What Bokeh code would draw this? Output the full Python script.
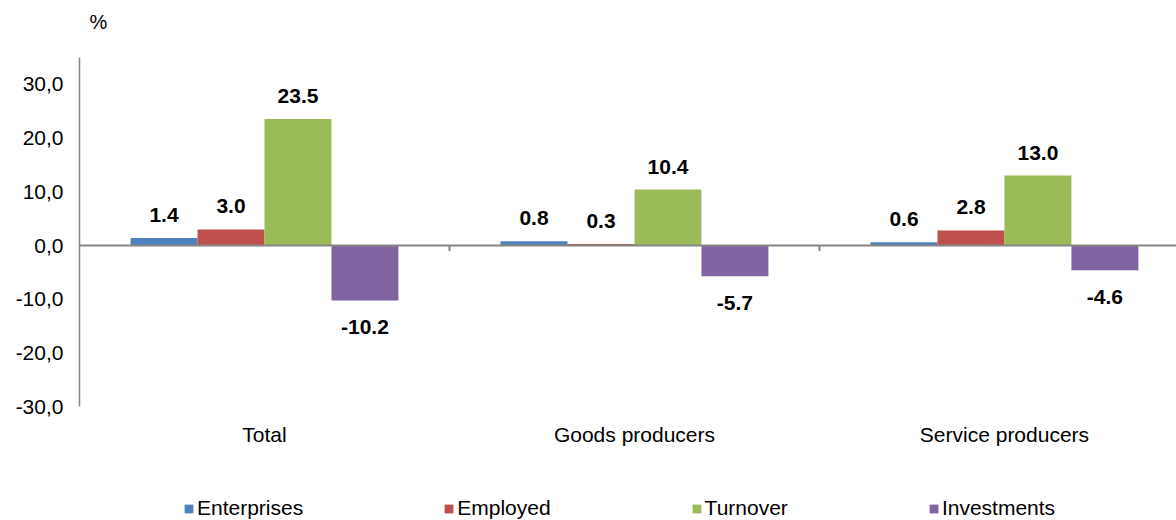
from bokeh.plotting import figure
from bokeh.models import Range1d, FixedTicker, Legend, LegendItem, Span, Label, ColumnDataSource
from bokeh.core.properties import value
from bokeh.embed import file_html
from bokeh.resources import INLINE

categories = ["Total", "Goods producers", "Service producers"]
series_names = ["Enterprises", "Employed", "Turnover", "Investments"]
enterprises = [1.4, 0.8, 0.6]
employed = [3.0, 0.3, 2.8]
turnover = [23.5, 10.4, 13.0]
investments = [-10.2, -5.7, -4.6]
y_ticks = [-30, -20, -10, 0, 10, 20, 30]
y_tick_labels = ["-30,0", "-20,0", "-10,0", "0,0", "10,0", "20,0", "30,0"]
colors = ["#4F81BD", "#C0504D", "#9BBB59", "#8064A2"]

series = [enterprises, employed, turnover, investments]
FONT = "Liberation Sans"
bw = 0.181
y_min, y_max = -30, 35

p = figure(width=1176, height=520, output_backend="svg", toolbar_location=None,
           x_range=Range1d(0, 2.965), y_range=Range1d(-51.1, 45.54),
           min_border_left=79, min_border_right=0, min_border_top=0, min_border_bottom=0)
p.outline_line_color = None
p.grid.grid_line_color = None
p.background_fill_color = "white"
p.xaxis.visible = False

# y axis
p.yaxis.bounds = (y_min, y_max)
p.yaxis.ticker = FixedTicker(ticks=y_ticks)
p.yaxis.major_label_overrides = {t: l for t, l in zip(y_ticks, y_tick_labels)}
p.yaxis.axis_line_color = "#868686"
p.yaxis.axis_line_width = 1.5
p.yaxis.major_tick_line_color = None
p.yaxis.minor_tick_line_color = None
p.yaxis.major_tick_out = 0
p.yaxis.major_tick_in = 0
p.yaxis.major_label_standoff = 16
p.yaxis.major_label_text_font = FONT
p.yaxis.major_label_text_font_size = "21px"
p.yaxis.major_label_text_color = "black"

# category labels under the plot area
centers = [i + 0.5 for i in range(len(categories))]
p.text(x=centers, y=[y_min] * len(centers), text=categories, y_offset=28,
       text_align="center", text_baseline="middle", text_font=value(FONT),
       text_font_size="21px", text_color="black")

# zero line
p.add_layout(Span(location=0, dimension="width", line_color="#868686", line_width=2))
# category separators
seps = [float(i) for i in range(1, len(categories))]
p.segment(x0=seps, y0=[0] * len(seps), x1=seps, y1=[-1.0] * len(seps), line_color="#868686", line_width=2)

items = []
for k, (name, vals, col) in enumerate(zip(series_names, series, colors)):
    xs = [c + (k - 1.5) * bw for c in centers]
    src = ColumnDataSource(dict(x=xs, top=vals))
    r = p.vbar(x="x", top="top", bottom=0, width=bw, source=src, fill_color=col, line_color=None)
    items.append(LegendItem(label=name, renderers=[r]))
    pos = [(x, v, f"{v:.1f}") for x, v in zip(xs, vals)]
    psrc = ColumnDataSource(dict(x=[a for a, b, c in pos if b >= 0], y=[b for a, b, c in pos if b >= 0], t=[c for a, b, c in pos if b >= 0]))
    nsrc = ColumnDataSource(dict(x=[a for a, b, c in pos if b < 0], y=[b for a, b, c in pos if b < 0], t=[c for a, b, c in pos if b < 0]))
    for s, off in ((psrc, -23), (nsrc, 27)):
        p.text(x="x", y="y", text="t", source=s, y_offset=off, text_align="center", text_baseline="middle",
               text_font=value(FONT), text_font_style="bold", text_font_size="21px", text_color="black")

legend = Legend(items=items, orientation="horizontal", location=(104, 0),
                label_text_font=FONT, label_text_font_size="21px", label_text_color="black",
                glyph_width=11, glyph_height=11, label_standoff=3, spacing=140,
                border_line_color=None, background_fill_alpha=0, margin=0, padding=0)
p.add_layout(legend)

p.add_layout(Label(x=0.051, y=41.5, text="%", text_font=FONT, text_font_size="20px",
                   text_align="center", text_baseline="middle", text_color="black"))

open("out.html", "w").write(file_html(p, INLINE))
